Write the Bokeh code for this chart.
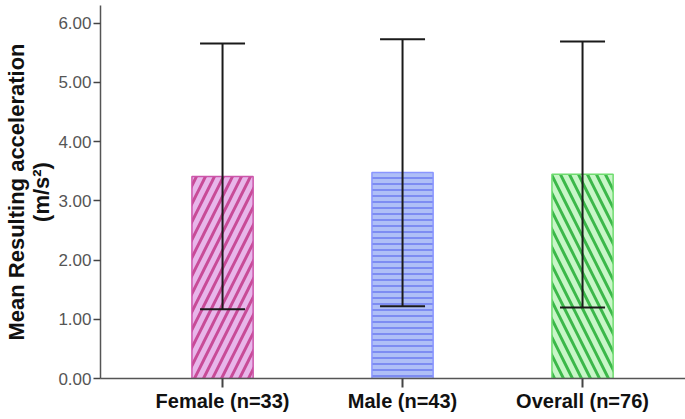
from bokeh.plotting import figure
from bokeh.models import Range1d, FixedTicker
from bokeh.embed import file_html
from bokeh.resources import INLINE

categories = ["Female (n=33)", "Male (n=43)", "Overall (n=76)"]
means = [3.41, 3.48, 3.45]
upper = [5.66, 5.73, 5.69]
lower = [1.17, 1.22, 1.20]
y_ticks = [0, 1, 2, 3, 4, 5, 6]

fills = ["#e8b6ea", "#afbff7", "#c8f6c8"]
hatch_colors = ["#c84b98", "#7d8cf2", "#3cb84a"]
outlines = ["#cc55aa", "#8a96ff", "#6fdc6f"]
patterns = ["/", "-", "\\"]
scales = [18, 6, 18]
weights = [3.0, 2.0, 3.0]

xs = list(range(len(categories)))

p = figure(width=685, height=419, output_backend="svg", toolbar_location=None,
           x_range=Range1d(-0.678, 2.572), y_range=Range1d(0, 6.30),
           min_border_left=100, min_border_right=0, min_border_top=5, min_border_bottom=41)
p.outline_line_color = None
p.xgrid.visible = False
p.ygrid.visible = False

for i in xs:
    p.vbar(x=[i], top=[means[i]], width=0.34, bottom=0,
           fill_color=fills[i], line_color=outlines[i], line_width=1.5,
           hatch_pattern=patterns[i], hatch_color=hatch_colors[i],
           hatch_scale=scales[i], hatch_weight=weights[i])

p.segment(x0=xs, x1=xs, y0=lower, y1=upper, line_color="#1a1a1a", line_width=2)
cap = 0.125
p.segment(x0=[x - cap for x in xs], x1=[x + cap for x in xs], y0=upper, y1=upper,
          line_color="#1a1a1a", line_width=2)
p.segment(x0=[x - cap for x in xs], x1=[x + cap for x in xs], y0=lower, y1=lower,
          line_color="#1a1a1a", line_width=2)

p.xaxis.ticker = FixedTicker(ticks=xs)
p.xaxis.major_label_overrides = {i: c for i, c in zip(xs, categories)}
p.xaxis.minor_tick_line_color = None
p.xaxis.major_tick_out = 9
p.xaxis.major_tick_in = 0
p.xaxis.axis_line_color = "#555555"
p.xaxis.axis_line_width = 1.5
p.xaxis.major_tick_line_color = "#444444"
p.xaxis.major_tick_line_width = 2
p.xaxis.major_label_text_font = "Liberation Sans"
p.xaxis.major_label_text_font_style = "bold"
p.xaxis.major_label_text_font_size = "20px"
p.xaxis.major_label_text_color = "#111111"
p.xaxis.major_label_standoff = 2

p.yaxis.ticker = FixedTicker(ticks=y_ticks)
p.yaxis.major_label_overrides = {t: f"{t:.2f}" for t in y_ticks}
p.yaxis.minor_tick_line_color = None
p.yaxis.major_tick_out = 7
p.yaxis.major_tick_in = 0
p.yaxis.axis_line_color = "#555555"
p.yaxis.axis_line_width = 1.5
p.yaxis.major_tick_line_color = "#444444"
p.yaxis.major_tick_line_width = 1.5
p.yaxis.major_label_text_font = "Liberation Sans"
p.yaxis.major_label_text_font_size = "17px"
p.yaxis.major_label_text_color = "#555555"
p.yaxis.major_label_standoff = 2
p.yaxis.axis_label = "Mean Resulting acceleration\n(m/s\u00b2)"
p.yaxis.axis_label_text_font = "Liberation Sans"
p.yaxis.axis_label_text_font_style = "bold"
p.yaxis.axis_label_text_font_size = "22px"
p.yaxis.axis_label_text_color = "#111111"
p.yaxis.axis_label_text_line_height = 1.0
p.yaxis.axis_label_standoff = 1

open("out.html", "w").write(file_html(p, INLINE))
